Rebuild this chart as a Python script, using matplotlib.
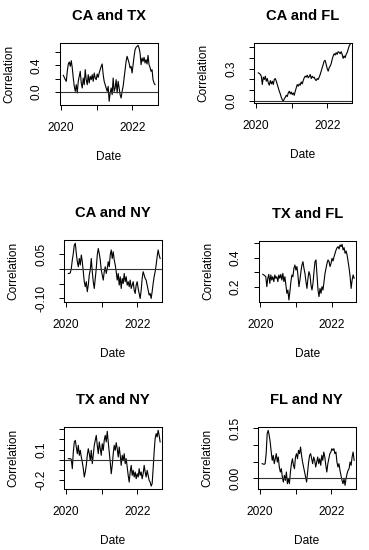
import numpy as np
import matplotlib
matplotlib.use("Agg")
import matplotlib.pyplot as plt

plt.rcParams['font.family'] = ['Liberation Sans', 'DejaVu Sans']

W, H = 369, 550

date_start, date_end = 2020.065, 2022.636

ca_tx = [0.25, 0.22, 0.185, 0.16, 0.31, 0.42, 0.45, 0.385, 0.47, 0.36, 0.21,
         0.085, 0.01, 0.11, -0.015, 0.16, 0.235, 0.31, 0.135, 0.06, 0.21,
         0.11, 0.335, 0.185, 0.11, 0.26, 0.135, 0.235, 0.185, 0.26, 0.16,
         0.285, 0.21, 0.185, 0.27, 0.22, 0.285, 0.335, 0.385, 0.42, 0.26,
         0.16, 0.11, 0.06, 0.01, 0.085, -0.14, -0.015, 0.06, -0.04, 0.21,
         0.01, 0.06, 0.185, -0.015, 0.16, 0.06, -0.04, -0.09, 0.01, 0.085,
         0.21, 0.335, 0.46, 0.535, 0.485, 0.435, 0.36, 0.385, 0.285, 0.41,
         0.535, 0.635, 0.67, 0.685, 0.70, 0.66, 0.585, 0.41, 0.51, 0.46,
         0.52, 0.435, 0.485, 0.42, 0.55, 0.41, 0.37, 0.31, 0.335, 0.185,
         0.135, 0.11]

ca_fl = [0.262, 0.256, 0.247, 0.231, 0.153, 0.222, 0.2, 0.231, 0.184, 0.209,
         0.169, 0.147, 0.19, 0.159, 0.184, 0.153, 0.2, 0.209, 0.184, 0.153,
         0.122, 0.091, 0.066, 0.034, 0.012, -0.003, 0.019, 0.034, 0.053,
         0.041, 0.075, 0.091, 0.066, 0.084, 0.059, 0.075, 0.053, 0.091,
         0.122, 0.153, 0.137, 0.159, 0.147, 0.178, 0.159, 0.19, 0.216, 0.231,
         0.222, 0.24, 0.216, 0.228, 0.247, 0.209, 0.231, 0.216, 0.222, 0.2,
         0.19, 0.209, 0.2, 0.222, 0.247, 0.278, 0.309, 0.34, 0.372, 0.378,
         0.34, 0.303, 0.278, 0.309, 0.325, 0.347, 0.387, 0.419, 0.44, 0.428,
         0.45, 0.434, 0.459, 0.453, 0.44, 0.459, 0.434, 0.397, 0.419, 0.403,
         0.434, 0.45, 0.481, 0.512, 0.528]

ca_ny = [-0.015, -0.015, -0.0125, 0.002, 0.031, 0.053, 0.082, 0.0875, 0.053,
         0.025, 0.008, 0.036, 0.014, 0.048, 0.025, -0.009, -0.043, -0.06,
         -0.043, -0.077, -0.0545, -0.02, -0.003, 0.036, -0.009, -0.043,
         -0.066, -0.032, 0.002, 0.048, 0.07, 0.053, 0.031, -0.003, -0.02,
         -0.0375, -0.009, 0.008, -0.015, 0.002, 0.025, 0.008, 0.048, 0.065,
         0.036, 0.059, 0.031, 0.014, -0.009, -0.0375, -0.015, -0.0545,
         -0.026, -0.066, -0.032, -0.049, -0.015, -0.043, -0.026, -0.0545,
         -0.043, -0.06, -0.0375, -0.066, -0.0545, -0.043, -0.0716, -0.083,
         -0.0545, -0.043, -0.066, -0.083, -0.1, -0.0716, -0.032, -0.009,
         -0.02, -0.032, -0.0375, -0.0545, -0.0716, -0.0886, -0.083, -0.1,
         -0.077, -0.049, -0.026, -0.009, 0.014, 0.042, 0.065, 0.048, 0.036]

tx_fl = [0.285, 0.281, 0.276, 0.269, 0.2, 0.258, 0.285, 0.223, 0.281, 0.246,
         0.269, 0.235, 0.281, 0.258, 0.269, 0.235, 0.281, 0.258, 0.285,
         0.246, 0.292, 0.235, 0.269, 0.212, 0.154, 0.177, 0.108, 0.165,
         0.235, 0.281, 0.269, 0.327, 0.35, 0.315, 0.339, 0.281, 0.2, 0.246,
         0.304, 0.35, 0.373, 0.327, 0.292, 0.235, 0.188, 0.258, 0.304, 0.281,
         0.212, 0.177, 0.223, 0.304, 0.373, 0.385, 0.281, 0.177, 0.131,
         0.188, 0.154, 0.2, 0.177, 0.235, 0.292, 0.327, 0.362, 0.385, 0.373,
         0.339, 0.362, 0.396, 0.378, 0.408, 0.431, 0.454, 0.47, 0.477, 0.461,
         0.489, 0.477, 0.493, 0.454, 0.47, 0.431, 0.447, 0.419, 0.373, 0.327,
         0.269, 0.188, 0.246, 0.281, 0.258]

tx_ny = [0.01, 0.01, 0.01, 0.003, -0.088, 0.075, 0.174, 0.19, 0.125, 0.059,
         0.141, 0.043, 0.092, 0.026, -0.023, -0.088, -0.17, -0.121, -0.056,
         0.043, 0.108, 0.059, -0.007, 0.092, -0.039, 0.043, 0.141, 0.19,
         0.239, 0.141, 0.059, 0.174, 0.108, 0.043, 0.157, 0.092, 0.19, 0.239,
         0.174, 0.279, 0.174, 0.075, -0.023, -0.138, -0.056, 0.059, 0.141,
         0.092, 0.167, 0.108, 0.026, 0.125, 0.043, -0.056, 0.043, -0.007,
         0.059, -0.039, 0.01, -0.072, -0.154, -0.22, -0.121, -0.056, -0.154,
         -0.105, -0.17, -0.121, -0.187, -0.138, -0.17, -0.088, -0.154,
         -0.121, -0.187, -0.138, -0.056, -0.121, -0.17, -0.105, -0.154,
         -0.203, -0.22, -0.259, -0.236, -0.088, 0.075, 0.207, 0.256, 0.223,
         0.289, 0.239, 0.174]

fl_ny = [0.044, 0.043, 0.042, 0.044, 0.074, 0.134, 0.144, 0.129, 0.109,
         0.079, 0.054, 0.069, 0.044, 0.059, 0.074, 0.049, 0.064, 0.034,
         0.019, 0.029, 0.004, -0.011, 0.009, -0.006, 0.019, -0.016, -0.001,
         -0.016, 0.019, 0.044, 0.059, 0.039, 0.029, 0.064, 0.074, 0.059,
         0.084, 0.074, 0.094, 0.069, 0.049, 0.034, 0.019, 0.004, -0.011,
         0.019, 0.049, 0.069, 0.074, 0.059, 0.044, 0.064, 0.054, 0.034,
         0.049, 0.064, 0.044, 0.059, 0.039, 0.069, 0.054, 0.079, 0.064,
         0.039, 0.019, 0.044, 0.059, 0.074, 0.079, 0.089, 0.084, 0.089,
         0.074, 0.079, 0.049, 0.034, 0.044, 0.024, 0.009, -0.006, -0.016,
         -0.001, -0.021, -0.001, 0.014, 0.024, 0.029, 0.049, 0.039, 0.064,
         0.079, 0.054]

titles = ['CA and TX', 'CA and FL', 'CA and NY', 'TX and FL', 'TX and NY',
          'FL and NY']
series = [ca_tx, ca_fl, ca_ny, tx_fl, tx_ny, fl_ny]

year_ticks = [2020, 2021, 2022]
year_labels = ['2020', '', '2022']

y_ticks = [[0.0, 0.2, 0.4, 0.6],
           [0.0, 0.1, 0.2, 0.3, 0.4, 0.5],
           [-0.10, -0.05, 0.0, 0.05],
           [0.2, 0.3, 0.4, 0.5],
           [-0.2, -0.1, 0.0, 0.1, 0.2, 0.3],
           [0.0, 0.05, 0.10, 0.15]]
y_labels = [['0.0', '', '0.4', ''],
            ['0.0', '', '', '0.3', '', ''],
            ['-0.10', '', '', '0.05'],
            ['0.2', '', '0.4', ''],
            ['-0.2', '', '', '0.1', '', ''],
            ['0.00', '', '', '0.15']]

# layout (pixel boxes x0, y0, x1, y1) and limits
boxes = [(59.7, 43, 158.3, 105), (254, 43, 351.7, 103),
         (64, 240, 161.7, 301.7), (258.7, 241, 355.7, 301.7),
         (64, 427, 161.7, 488.7), (258, 427, 355.7, 488.7)]
xlims = [(2019.964, 2022.728), (2019.944, 2022.68), (2019.944, 2022.68),
         (2019.95, 2022.68), (2019.944, 2022.68), (2019.95, 2022.68)]
ylims = [(-0.195, 0.735), (-0.019, 0.54), (-0.111, 0.0989),
         (0.096, 0.516), (-0.285, 0.321), (-0.031, 0.154)]

fig = plt.figure(figsize=(W / 100, H / 100), dpi=100)

for i, vals in enumerate(series):
    x0, y0, x1, y1 = boxes[i]
    ax = fig.add_axes([x0 / W, 1 - y1 / H, (x1 - x0) / W, (y1 - y0) / H])
    t = np.linspace(date_start, date_end, len(vals))
    ax.plot(t, vals, color='black', lw=0.8)
    ax.axhline(0, color='#333333', lw=0.8)
    ax.set_xlim(*xlims[i])
    ax.set_ylim(*ylims[i])
    ax.set_xticks(year_ticks)
    ax.set_xticklabels(year_labels)
    ax.set_yticks(y_ticks[i])
    ax.set_yticklabels(y_labels[i], rotation=90, va='center')
    ax.tick_params(direction='out', length=3.6, width=0.7, labelsize=8.6,
                   pad=8.5, color='black')
    for sp in ax.spines.values():
        sp.set_linewidth(0.75)
    ax.set_title(titles[i], fontsize=10.6, fontweight='bold', pad=16.6)
    ax.annotate('Correlation', xy=(0, 0.5), xycoords='axes fraction',
                xytext=(-36.3, 0), textcoords='offset points',
                rotation=90, ha='center', va='center', fontsize=8.6)
    ax.annotate('Date', xy=(0.5, 0), xycoords='axes fraction',
                xytext=(0, -37.4), textcoords='offset points',
                ha='center', va='center', fontsize=8.6)

fig.savefig('out.png', dpi=100)
